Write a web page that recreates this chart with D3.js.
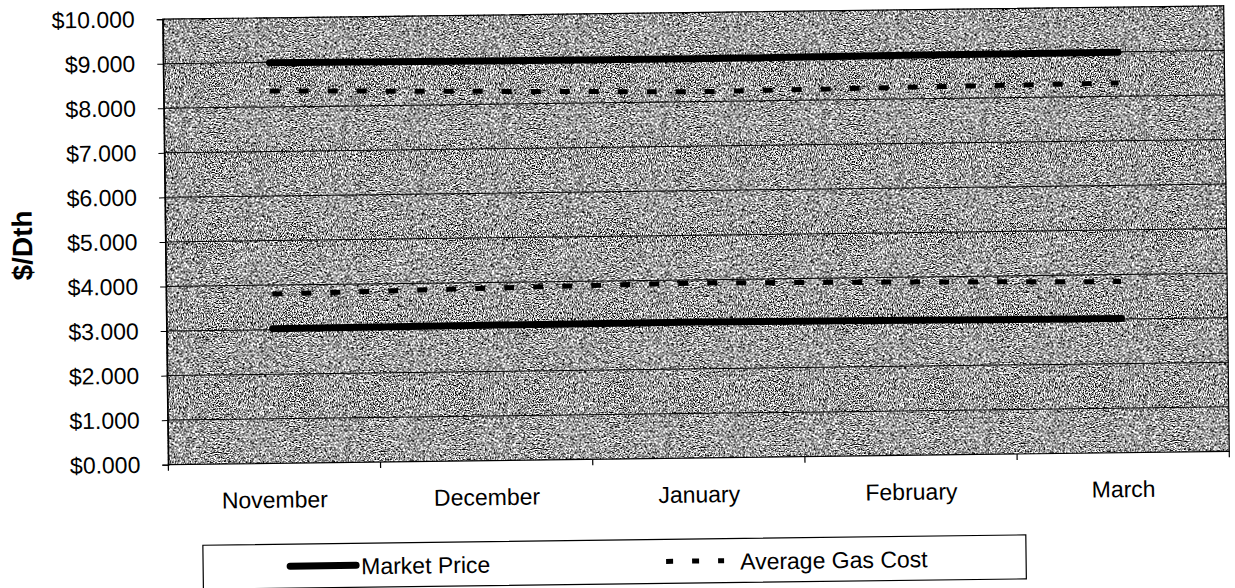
<!DOCTYPE html>
<html>
<head>
<meta charset="utf-8">
<script src="https://cdn.jsdelivr.net/npm/d3@7"></script>
<style>
  html, body { margin: 0; padding: 0; background: #fff; }
  svg { display: block; }
  text { font-family: "Liberation Sans", Arial, sans-serif; fill: #000; }
</style>
</head>
<body>
<script>
// Monthly categories
const months = ["November", "December", "January", "February", "March"];

// Market price band ($/Dth)
const marketPriceHigh = [8.99, 8.97, 8.96, 8.98, 8.99];
const marketPriceLow  = [3.02, 3.04, 3.05, 3.03, 3.01];

// Average gas cost band ($/Dth)
const avgGasCostHigh = [8.36, 8.29, 8.22, 8.26, 8.30];
const avgGasCostLow  = [3.80, 3.87, 3.93, 3.89, 3.84];

// Value axis ticks
const yTickValues = [0, 1, 2, 3, 4, 5, 6, 7, 8, 9, 10];
const yTickLabels = ["$0.000", "$1.000", "$2.000", "$3.000", "$4.000", "$5.000",
                     "$6.000", "$7.000", "$8.000", "$9.000", "$10.000"];

const legendLabels = ["Market Price", "Average Gas Cost"];

const W = 1235, H = 588;
const plot = { left: 165.5, right: 1226.5, top: 12.5, bottom: 458 };

const svg = d3.select("body").append("svg")
  .attr("width", W).attr("height", H);

// Grainy grey fill for the plot area
const defs = svg.append("defs");
const grain = defs.append("filter")
  .attr("id", "grain")
  .attr("x", 0).attr("y", 0).attr("width", 1).attr("height", 1)
  .attr("color-interpolation-filters", "sRGB");
grain.append("feTurbulence")
  .attr("type", "fractalNoise")
  .attr("baseFrequency", 0.8)
  .attr("numOctaves", 2)
  .attr("seed", 7)
  .attr("result", "noise");
grain.append("feColorMatrix")
  .attr("in", "noise")
  .attr("type", "matrix")
  .attr("values", "3.8 0 0 0 -1.28  3.8 0 0 0 -1.28  3.8 0 0 0 -1.28  0 0 0 0 1");

const g = svg.append("g")
  .attr("transform", "rotate(-0.72, 696, 235)");

const x = d3.scaleBand().domain(months).range([plot.left, plot.right]);
const y = d3.scaleLinear().domain([0, 10]).range([plot.bottom, plot.top]);

// Plot background
g.append("rect")
  .attr("x", plot.left).attr("y", plot.top)
  .attr("width", plot.right - plot.left)
  .attr("height", plot.bottom - plot.top)
  .attr("fill", "#a8a8a8")
  .attr("filter", "url(#grain)");

// Horizontal gridlines
g.append("g").selectAll("line")
  .data(yTickValues.filter(v => v > 0 && v < 10))
  .join("line")
  .attr("x1", plot.left).attr("x2", plot.right)
  .attr("y1", d => y(d)).attr("y2", d => y(d))
  .attr("stroke", "#000").attr("stroke-width", 1);

// Plot frame
g.append("rect")
  .attr("x", plot.left).attr("y", plot.top)
  .attr("width", plot.right - plot.left)
  .attr("height", plot.bottom - plot.top)
  .attr("fill", "none")
  .attr("stroke", "#000").attr("stroke-width", 1.2);

// Value axis
const yAxis = d3.axisLeft(y)
  .tickValues(yTickValues)
  .tickSize(6)
  .tickPadding(22)
  .tickFormat((d, i) => yTickLabels[i]);
const yAxisG = g.append("g")
  .attr("transform", `translate(${plot.left},0)`)
  .call(yAxis);
yAxisG.select(".domain").attr("stroke", "#000").attr("stroke-width", 1.2);
yAxisG.selectAll(".tick line").attr("stroke", "#000");
yAxisG.selectAll(".tick text")
  .attr("font-size", 23)
  .attr("font-family", "Liberation Sans, Arial, sans-serif")
  .attr("fill", "#000");

// Category axis with ticks between categories
const boundaries = months.map(m => x(m)).concat([plot.right]);
g.append("g").selectAll("line")
  .data(boundaries)
  .join("line")
  .attr("x1", d => d).attr("x2", d => d)
  .attr("y1", plot.bottom).attr("y2", plot.bottom + 6)
  .attr("stroke", "#000").attr("stroke-width", 1.2);

g.append("g").selectAll("text")
  .data(months)
  .join("text")
  .attr("x", d => x(d) + x.bandwidth() / 2)
  .attr("y", 502.5)
  .attr("text-anchor", "middle")
  .attr("font-size", 23)
  .text(d => d);

// Axis title
g.append("text")
  .attr("transform", "translate(32,237) rotate(-90)")
  .attr("text-anchor", "middle")
  .attr("font-size", 28)
  .attr("font-weight", "bold")
  .text("$/Dth");

// Series lines
const line = d3.line()
  .x((d, i) => x(months[i]) + x.bandwidth() / 2)
  .y(d => y(d));

const solidStyle = sel => sel
  .attr("fill", "none").attr("stroke", "#000")
  .attr("stroke-width", 7).attr("stroke-linecap", "round");
const dashStyle = sel => sel
  .attr("fill", "none").attr("stroke", "#000")
  .attr("stroke-width", 5).attr("stroke-dasharray", "10,19");

[avgGasCostHigh, avgGasCostLow].forEach(s =>
  g.append("path").attr("d", line(s)).call(dashStyle));
[marketPriceHigh, marketPriceLow].forEach(s =>
  g.append("path").attr("d", line(s)).call(solidStyle));

// Legend
const legend = g.append("g");
legend.append("rect")
  .attr("x", 199).attr("y", 539)
  .attr("width", 823).attr("height", 44)
  .attr("fill", "#fff")
  .attr("stroke", "#000").attr("stroke-width", 1.2);

legend.append("line")
  .attr("x1", 286).attr("x2", 352)
  .attr("y1", 561).attr("y2", 561)
  .call(solidStyle);
legend.append("text")
  .attr("x", 357).attr("y", 570)
  .attr("font-size", 23)
  .text(legendLabels[0]);

legend.append("line")
  .attr("x1", 662).attr("x2", 720)
  .attr("y1", 561).attr("y2", 561)
  .attr("stroke", "#000").attr("stroke-width", 5)
  .attr("stroke-dasharray", "7,19");
legend.append("text")
  .attr("x", 736).attr("y", 570)
  .attr("font-size", 23)
  .text(legendLabels[1]);
</script>
</body>
</html>
